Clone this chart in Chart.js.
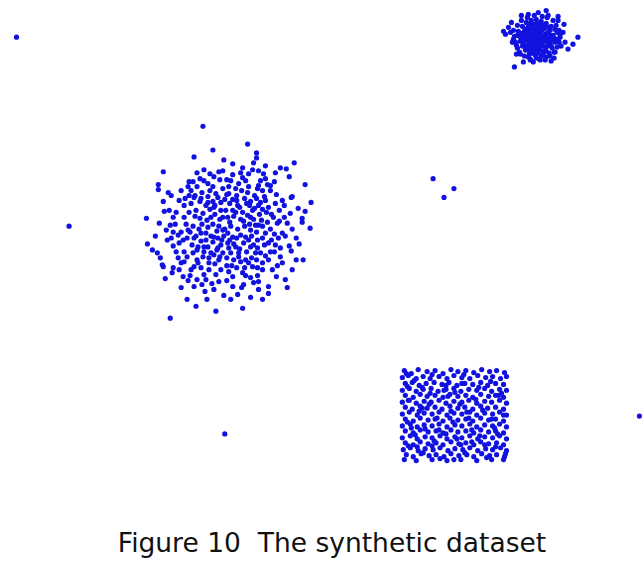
<!DOCTYPE html>
<html>
<head>
<meta charset="utf-8">
<script src="https://cdn.jsdelivr.net/npm/chart.js@4.4.0/dist/chart.umd.min.js"></script>
<style>
  body { margin: 0; background: #fff; width: 644px; height: 584px; position: relative; overflow: hidden; }
  #plotWrap { position: absolute; left: 0; top: 0; width: 644px; height: 480px; }
  #caption { position: absolute; left: 0; top: 528px; width: 664px; text-align: center;
             font: 26.5px "DejaVu Sans", sans-serif; line-height: 30px; color: #111; white-space: pre; }
</style>
</head>
<body>
<div id="plotWrap"><canvas id="syntheticChart" width="644" height="480"></canvas></div>
<div id="caption">Figure 10  The synthetic dataset</div>
<script>
/* Данные: координаты точек (x вправо, y вниз) */

// гауссово облако слева
const blobLeft = [
  [202,125],[212,149],[223,159],[162,171],[203,169],[209,173],[218,171],[157,184],[157,189],[167,192],[170,195],[162,201],[163,211],[145,218],[188,181],[192,181],[187,186],[203,180],[207,183],[212,186],[219,179],[188,195],[193,197],[200,198],[207,202],[217,197],[213,207],[220,210],[183,205],[175,212],[195,210],[202,213],[210,217],[172,217],[183,217],
  [256,152],[256,157],[253,162],[232,163],[280,167],[286,168],[294,162],[289,176],[252,169],[258,170],[263,173],[248,173],[242,177],[245,180],[232,174],[230,180],[238,183],[265,178],[274,181],[305,184],[258,185],[257,188],[262,190],[267,184],[247,192],[235,188],[228,193],[250,201],[260,202],[265,200],[275,203],[282,200],[291,197],[254,208],[262,209],[237,205],[232,210],[242,212],[298,208],[305,211],[273,217],[284,217],[302,218],[227,217],
  [146,244],[151,250],[156,253],[161,265],[162,267],[172,268],[171,273],[177,258],[180,263],[175,252],[172,246],[183,252],[187,281],[196,280],[193,287],[180,288],[211,284],[203,275],[186,300],[215,312],[169,319],[158,223],[169,225],[172,232],[177,235],[187,230],[182,240],[193,238],[190,270],[193,267],[197,263],[202,257],[208,263],[210,253],[217,248],[218,260],[220,270],[207,247],[197,247],[200,233],[207,227],[213,237],[222,230],
  [299,244],[303,260],[287,288],[268,287],[250,298],[242,309],[232,287],[243,285],[250,278],[253,283],[242,273],[262,270],[268,260],[280,257],[274,252],[260,253],[255,253],[250,247],[257,240],[268,243],[278,238],[282,233],[275,245],[265,233],[258,225],[277,223],[287,223],[302,222],[240,235],[238,253],[230,253],[228,272],[248,263],[245,260],[235,247],[232,237],[227,243],[252,267],
  [190,190],[196,186],[201,192],[209,190],[215,193],[222,188],[228,186],[236,195],[241,190],[248,186],[254,195],[270,190],[276,194],[184,198],[190,203],[205,205],[212,201],[224,199],[229,203],[236,200],[244,198],[249,205],[256,198],[268,207],[279,210],[188,212],[199,218],[206,220],[214,214],[219,219],[225,210],[233,216],[240,219],[247,215],[253,219],[259,214],[266,212],[279,221],[290,213],[185,224],[192,226],[198,229],[205,233],[212,224],[218,226],[224,229],[230,226],[237,229],[244,226],[250,230],[256,232],[262,226],[270,229],[292,229],[186,238],[191,245],[200,241],[205,240],[212,242],[217,238],[223,236],[229,240],[236,238],[243,243],[248,240],[253,245],[262,238],[271,240],[289,246],[186,257],[192,253],[203,252],[213,255],[222,253],[226,258],[233,260],[240,262],[246,252],[256,260],[262,263],[282,263],[292,270],[200,268],[208,270],[215,275],[226,266],[236,268],[245,276],[257,276],[276,277],[213,290],[223,296],[204,292],[277,266],[180,232],[178,243],[166,240],[165,230],[168,210],[178,200],[250,217],[228,248],[220,245],[196,260],[205,280],[258,290],[268,294],[237,295],[226,281],[195,307],[182,277],[296,238],[285,280],[164,279],[310,228],[311,202],[196,172],[242,167],[265,165],[275,172],[193,156],[247,143],[292,196],
  [194,195],[199,201],[207,196],[214,205],[220,202],[226,194],[232,199],[239,207],[246,203],[252,210],[258,205],[264,196],[271,214],[194,216],[201,224],[209,209],[216,231],[222,217],[229,222],[235,212],[243,221],[249,224],[255,225],[261,220],[267,222],[274,234],[189,232],[195,236],[203,247],[210,236],[216,250],[221,240],[227,233],[233,244],[239,249],[245,237],[251,236],[257,248],[264,245],[270,252],[196,250],[208,258],[214,264],[219,257],[231,266],[238,257],[244,268],[251,258],[257,268],[265,256],[183,262],[189,276],[201,285],[218,282],[232,277],[241,288],[258,282],[272,270],[280,248],[285,236],[284,205],[270,185],[226,179],[213,176],[199,178],[180,190],[174,224],[170,238],[178,270],[206,300],[230,300],[262,300],[222,170],[240,172],[260,180],[291,251],[296,260],[154,236],[159,258]
];

// равномерный квадрат внизу справа
const squareRight = [
  [405,372],[412,375],[419,371],[428,373],[436,372],[444,375],[452,371],[459,373],[467,372],[475,374],[483,371],[491,373],[498,372],[506,374],
  [403,379],[409,377],[417,380],[424,378],[431,380],[440,378],[448,380],[455,377],[463,379],[471,380],[479,377],[487,379],[494,378],[502,380],[508,378],
  [406,385],[413,384],[420,387],[427,385],[435,384],[443,386],[450,384],[458,387],[466,385],[474,386],[482,384],[489,387],[497,385],[505,386],
  [403,392],[410,390],[417,393],[424,391],[432,390],[439,393],[447,391],[455,390],[462,393],[470,391],[478,392],[486,390],[493,393],[501,391],[508,392],
  [406,397],[414,399],[421,396],[428,398],[436,397],[444,399],[451,396],[459,398],[467,397],[474,399],[482,396],[490,398],[497,397],[505,399],
  [403,404],[410,402],[417,405],[425,403],[432,404],[440,402],[447,405],[455,403],[463,404],[470,402],[478,405],[486,403],[493,404],[501,402],[508,405],
  [406,409],[413,411],[421,408],[428,410],[436,409],[443,411],[451,408],[459,410],[466,409],[474,411],[482,408],[489,410],[497,409],[505,411],
  [403,416],[410,414],[418,417],[425,415],[433,416],[440,414],[448,417],[455,415],[463,416],[471,414],[478,417],[486,415],[494,416],[501,414],[508,417],
  [406,421],[414,423],[421,420],[429,422],[436,421],[444,423],[451,420],[459,422],[467,421],[474,423],[482,420],[490,422],[497,421],[505,423],
  [403,428],[411,426],[418,429],[425,427],[433,428],[440,426],[448,429],[456,427],[463,428],[471,426],[478,429],[486,427],[494,428],[501,426],[508,429],
  [406,433],[414,435],[421,432],[429,434],[437,433],[444,435],[452,432],[459,434],[467,433],[475,435],[482,432],[490,434],[497,433],[505,435],
  [403,440],[411,438],[418,441],[426,439],[433,440],[441,438],[448,441],[456,439],[463,440],[471,438],[479,441],[486,439],[494,440],[501,438],[508,441],
  [406,445],[414,447],[421,444],[429,446],[437,445],[444,447],[452,444],[460,446],[467,445],[475,447],[482,444],[490,446],[498,445],[505,447],
  [404,452],[411,450],[419,453],[426,451],[434,452],[441,450],[449,453],[456,451],[464,452],[471,450],[479,453],[487,451],[494,452],[502,450],[508,453],
  [407,457],[414,459],[422,456],[430,458],[437,457],[445,459],[452,456],[460,458],[468,457],[475,459],[483,456],[491,458],[498,457],[506,459],
  [405,462],[417,463],[433,462],[448,463],[462,462],[478,463],[493,462],[505,462],
  [408,388],[431,395],[452,413],[477,401],[496,430],[418,449],[463,385],[440,432],[486,447],[423,410],[470,420],[500,397],[412,430],[445,392],[458,441],
  [407,375],[415,382],[423,389],[433,376],[447,387],[456,394],[465,376],[480,389],[492,383],[503,395],[409,402],[420,413],[430,406],[438,420],[449,398],[461,406],[468,414],[484,412],[493,421],[505,417],
  [408,424],[416,437],[426,431],[435,443],[447,436],[454,424],[462,447],[473,432],[481,438],[499,436],[409,448],[424,455],[433,448],[441,461],[455,462],[466,455],[473,444],[488,460],[497,449],[507,456]
];

// плотное облако вверху справа
const denseTop = [
  [580,35],[566,22],[505,29],[507,32],[510,25],[516,65],[553,59],[542,58],[570,47],[567,40],[523,13],[530,12],[550,13],[540,10],[518,43],[515,37],[562,32],[557,50],[530,55],[513,20],[548,8],[560,18],[575,42],[522,52],[535,60],[525,60],
  [528,20],[533,18],[538,17],[543,19],[548,21],[553,24],[524,24],[530,24],[536,22],[541,24],[546,26],[552,28],[557,27],[520,29],[526,29],[531,28],[537,27],[543,29],[549,31],[555,33],[560,37],[521,34],[527,33],[533,32],[539,33],[545,34],[551,36],[557,40],[522,39],[528,38],[534,37],[540,38],[546,39],[552,41],[524,44],[530,43],[536,42],[542,43],[548,45],[554,46],[527,48],[533,47],[539,48],[545,50],[551,51],[531,52],[537,53],[543,54],[548,55],[535,27],[540,30],[532,35],[538,41],[544,37],[529,45],[550,30],[525,36],[547,48],[536,50],[541,45],[534,40],[538,35],[542,26],[528,32],[553,44],[519,33],[559,30],
  [532,22],[539,21],[545,23],[550,25],[527,27],[534,25],[539,26],[545,27],[552,33],[556,36],[524,31],[530,30],[536,30],[542,31],[547,32],[553,38],[523,36],[529,35],[535,35],[541,35],[547,36],[549,40],[525,41],[531,40],[537,39],[543,40],[551,43],[527,44],[533,44],[539,45],[545,44],[530,48],[536,47],[542,48],[548,49],[534,51],[540,51],[545,53],[538,56],[532,57],
  [515,28],[516,34],[517,40],[519,46],[521,50],[526,54],[541,57],[547,58],[552,54],[556,50],[559,45],[561,40],[562,35],[561,28],[558,23],[555,18],[549,15],[544,14],[536,13],[529,15],[523,18],[519,23],[512,30],[514,40],[518,52],[532,58],[556,56],[563,44],[565,30],[560,14]
];

// одиночные выбросы
const outliers = [[14,35],[67,226],[224,436],[642,418],[434,178],[455,188],[445,197]];

const allPoints = [].concat(blobLeft, squareRight, denseTop, outliers).map(p => ({x: p[0], y: p[1]}));

const ctx = document.getElementById('syntheticChart').getContext('2d');
const syntheticChart = new Chart(ctx, {
  type: 'scatter',
  data: {
    datasets: [{
      label: 'synthetic',
      data: allPoints,
      backgroundColor: '#1212e0',
      borderWidth: 0,
      pointRadius: 2.6,
      pointHoverRadius: 2.6,
      clip: false
    }]
  },
  options: {
    responsive: false,
    animation: false,
    layout: { padding: 0 },
    plugins: {
      legend: { display: false },
      tooltip: { enabled: false }
    },
    scales: {
      x: { type: 'linear', min: 0, max: 644, display: false },
      y: { type: 'linear', min: 0, max: 480, reverse: true, display: false }
    }
  }
});
</script>
</body>
</html>
